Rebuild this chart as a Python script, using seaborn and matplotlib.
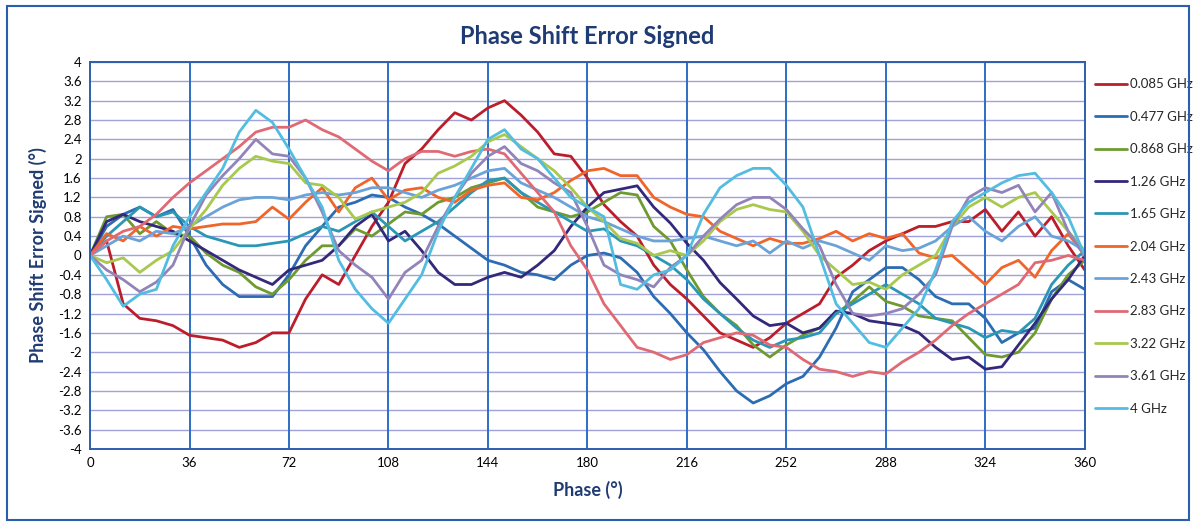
import pandas as pd
import seaborn as sns
import matplotlib.pyplot as plt
from matplotlib.patches import Rectangle

sns.set_theme(style="white")
plt.rcParams['font.family'] = ['Lato', 'DejaVu Sans']

phase = list(range(0, 361, 6))

freq_labels = ['0.085 GHz', '0.477 GHz', '0.868 GHz', '1.26 GHz', '1.65 GHz',
               '2.04 GHz', '2.43 GHz', '2.83 GHz', '3.22 GHz', '3.61 GHz', '4 GHz']

err_0085 = [0, 0.3, -1.0, -1.3, -1.35, -1.45, -1.65, -1.7, -1.75, -1.9, -1.8, -1.6, -1.6,
            -0.9, -0.4, -0.6, 0.0, 0.6, 1.1, 1.9, 2.2, 2.6, 2.95, 2.8, 3.05, 3.2, 2.9, 2.55,
            2.1, 2.05, 1.6, 1.05, 0.7, 0.4, -0.2, -0.6, -0.9, -1.25, -1.6, -1.75, -1.9, -1.7,
            -1.4, -1.2, -1.0, -0.45, -0.2, 0.1, 0.3, 0.45, 0.6, 0.6, 0.7, 0.7, 0.95, 0.5,
            0.9, 0.4, 0.8, 0.2, -0.3]
err_0477 = [0, 0.6, 0.85, 1.0, 0.8, 0.95, 0.4, -0.2, -0.6, -0.85, -0.85, -0.85, -0.4,
            0.2, 0.6, 1.0, 1.1, 1.25, 1.2, 1.0, 0.85, 0.65, 0.4, 0.15, -0.1, -0.2, -0.35,
            -0.4, -0.5, -0.2, 0.0, 0.05, -0.05, -0.35, -0.85, -1.2, -1.6, -1.95, -2.4,
            -2.8, -3.05, -2.9, -2.65, -2.5, -2.1, -1.5, -0.75, -0.5, -0.25, -0.25, -0.5,
            -0.85, -1.0, -1.0, -1.3, -1.8, -1.6, -1.5, -0.75, -0.5, -0.7]
err_0868 = [0, 0.8, 0.85, 0.45, 0.7, 0.45, 0.4, 0.05, -0.2, -0.35, -0.65, -0.8, -0.5,
            -0.1, 0.2, 0.2, 0.55, 0.4, 0.65, 0.9, 0.85, 1.1, 1.2, 1.4, 1.5, 1.6, 1.3, 1.0,
            0.9, 0.8, 0.9, 1.1, 1.3, 1.25, 0.6, 0.3, -0.3, -0.85, -1.2, -1.45, -1.85, -2.1,
            -1.85, -1.65, -1.5, -1.2, -0.95, -0.65, -0.95, -1.05, -1.25, -1.3, -1.35, -1.7,
            -2.05, -2.1, -2.0, -1.6, -0.9, -0.4, -0.1]
err_126 = [0, 0.7, 0.85, 0.7, 0.6, 0.5, 0.3, 0.1, -0.1, -0.3, -0.45, -0.6, -0.3, -0.2,
           -0.1, 0.2, 0.6, 0.85, 0.3, 0.5, 0.1, -0.35, -0.6, -0.6, -0.45, -0.35, -0.45,
           -0.2, 0.1, 0.6, 1.0, 1.3, 1.37, 1.44, 1.0, 0.67, 0.25, -0.1, -0.56, -0.9, -1.25,
           -1.45, -1.4, -1.6, -1.5, -1.15, -1.2, -1.35, -1.4, -1.45, -1.6, -1.9, -2.15,
           -2.1, -2.35, -2.3, -1.85, -1.4, -0.9, -0.5, 0.0]
err_165 = [0, 0.4, 0.7, 1.0, 0.8, 0.9, 0.6, 0.4, 0.3, 0.2, 0.2, 0.25, 0.3, 0.45, 0.6,
           0.5, 0.7, 0.9, 0.6, 0.3, 0.5, 0.7, 1.0, 1.3, 1.55, 1.6, 1.3, 1.1, 0.9, 0.7,
           0.5, 0.55, 0.3, 0.2, 0.0, -0.2, -0.5, -0.9, -1.2, -1.5, -1.75, -1.9, -1.75,
           -1.7, -1.6, -1.2, -1.0, -0.8, -0.6, -0.8, -1.0, -1.3, -1.4, -1.5, -1.7, -1.55,
           -1.6, -1.3, -0.6, -0.2, 0.1]
err_204 = [0, 0.45, 0.3, 0.6, 0.4, 0.6, 0.55, 0.6, 0.65, 0.65, 0.7, 1.0, 0.75, 1.1,
           1.4, 0.9, 1.4, 1.6, 1.15, 1.35, 1.4, 1.2, 1.1, 1.35, 1.45, 1.5, 1.2, 1.15, 1.3,
           1.55, 1.75, 1.8, 1.65, 1.65, 1.2, 1.0, 0.85, 0.8, 0.5, 0.35, 0.2, 0.35, 0.25,
           0.25, 0.35, 0.5, 0.3, 0.45, 0.35, 0.45, 0.05, -0.05, 0.0, -0.3, -0.6, -0.25,
           -0.1, -0.45, 0.1, 0.45, 0.0]
err_243 = [0, 0.2, 0.4, 0.3, 0.5, 0.45, 0.6, 0.8, 1.0, 1.15, 1.2, 1.2, 1.15, 1.25, 1.3,
           1.25, 1.3, 1.4, 1.4, 1.3, 1.2, 1.35, 1.45, 1.6, 1.75, 1.8, 1.5, 1.35, 1.2, 1.0,
           0.8, 0.7, 0.55, 0.4, 0.3, 0.3, 0.35, 0.4, 0.3, 0.2, 0.3, 0.05, 0.3, 0.15,
           0.3, 0.2, 0.05, -0.1, 0.2, 0.1, 0.15, 0.3, 0.6, 0.8, 0.5, 0.3, 0.6, 0.8, 0.4,
           0.3, 0.1]
err_283 = [0, 0.3, 0.5, 0.6, 0.85, 1.2, 1.5, 1.75, 2.0, 2.25, 2.55, 2.65, 2.65, 2.8,
           2.6, 2.45, 2.2, 1.95, 1.75, 2.0, 2.15, 2.15, 2.05, 2.15, 2.2, 2.1, 1.7, 1.3,
           0.9, 0.2, -0.3, -1.0, -1.45, -1.9, -2.0, -2.15, -2.05, -1.8, -1.7, -1.6, -1.65,
           -1.85, -1.9, -2.15, -2.35, -2.4, -2.5, -2.4, -2.45, -2.2, -2.0, -1.75, -1.45,
           -1.2, -1.0, -0.8, -0.6, -0.15, -0.1, 0.0, -0.1]
err_322 = [0, -0.15, -0.05, -0.35, -0.1, 0.1, 0.55, 0.95, 1.45, 1.8, 2.05, 1.95, 1.9,
           1.5, 1.45, 1.2, 0.75, 0.9, 1.0, 1.1, 1.3, 1.7, 1.85, 2.05, 2.35, 2.5, 2.25, 2.0,
           1.75, 1.4, 1.0, 0.7, 0.35, 0.25, 0.0, 0.1, 0.0, 0.3, 0.7, 0.95, 1.05, 0.95,
           0.9, 0.5, 0.0, -0.3, -0.6, -0.55, -0.7, -0.4, -0.2, 0.0, 0.6, 1.0, 1.2, 1.0,
           1.2, 1.3, 0.9, 0.5, 0.1]
err_361 = [0, -0.3, -0.5, -0.75, -0.55, -0.2, 0.6, 1.25, 1.65, 2.0, 2.4, 2.1, 2.05, 1.6,
           0.9, 0.1, -0.2, -0.45, -0.9, -0.35, -0.1, 0.6, 1.2, 1.7, 2.05, 2.25, 1.9, 1.75,
           1.5, 1.3, 0.6, -0.2, -0.4, -0.5, -0.65, -0.25, 0.0, 0.4, 0.75, 1.05, 1.2, 1.2,
           0.95, 0.55, 0.2, -0.6, -1.2, -1.25, -1.2, -1.1, -0.8, -0.4, 0.6, 1.2, 1.4, 1.3,
           1.45, 0.9, 1.3, 0.5, 0.0]
err_4 = [0, -0.5, -1.05, -0.8, -0.7, 0.2, 0.8, 1.3, 1.8, 2.55, 3.0, 2.75, 2.2, 1.6, 1.0,
         -0.1, -0.7, -1.1, -1.4, -0.9, -0.4, 0.5, 1.2, 1.8, 2.4, 2.6, 2.2, 2.0, 1.6, 1.2,
         1.0, 0.8, -0.6, -0.7, -0.4, -0.3, 0.0, 0.85, 1.4, 1.65, 1.8, 1.8, 1.45, 1.0,
         0.0, -1.0, -1.4, -1.8, -1.9, -1.5, -1.1, -0.3, 0.7, 1.1, 1.3, 1.5, 1.65, 1.7,
         1.3, 0.8, 0.0]

series = [err_0085, err_0477, err_0868, err_126, err_165, err_204,
          err_243, err_283, err_322, err_361, err_4]

colors = ['#BB1E2A', '#2C6CB3', '#6F9A30', '#33287A', '#2A97B5', '#F0652A',
          '#6BA2D8', '#E06A74', '#A8C84E', '#9284B8', '#52BDE0']

frames = []
for lab, vals in zip(freq_labels, series):
    frames.append(pd.DataFrame({'phase': phase, 'error': vals, 'freq': lab}))
df = pd.concat(frames, ignore_index=True)

fig = plt.figure(figsize=(11.96, 5.25), dpi=100)
ax = fig.add_axes([0.0753, 0.1448, 0.8317, 0.7372])

sns.lineplot(data=df, x='phase', y='error', hue='freq', hue_order=freq_labels,
             palette=colors, linewidth=2.0, sort=False, ax=ax, legend=True)

navy = '#1F3B73'
ax.set_xlim(0, 360)
ax.set_ylim(-4, 4)
ax.set_xticks(range(0, 361, 36))
yt = [round(-4 + 0.4 * i, 1) for i in range(21)]
ax.set_yticks(yt)
ax.set_yticklabels([f'{v:g}' for v in yt])
ax.tick_params(axis='both', labelsize=9.5, colors='black', length=0, pad=6)

ax.grid(False)
for v in yt:
    ax.axhline(v, color='#9FA3DA', linewidth=1.0, zorder=0)
for v in range(36, 360, 36):
    ax.axvline(v, color='#2B6FC4', linewidth=1.4, zorder=0.5)
for s in ax.spines.values():
    s.set_color('#2B5FAE')
    s.set_linewidth(1.4)

ax.set_xlabel('Phase (°)', fontsize=13, fontweight='bold', color=navy, labelpad=8)
ax.set_ylabel('Phase Shift Error Signed (°)', fontsize=13, fontweight='bold',
              color=navy, labelpad=8)
fig.text(0.491, 0.93, 'Phase Shift Error Signed', ha='center', va='center',
         fontsize=17, fontweight='bold', color=navy)

handles, labels = ax.get_legend_handles_labels()
ax.legend(handles, labels, loc='upper left', bbox_to_anchor=(1.0, 0.985),
          frameon=False, fontsize=9.5, handlelength=2.4, handletextpad=0.2,
          labelspacing=1.55, borderaxespad=0.4)

fig.patches.append(Rectangle((0.006, 0.01), 0.988, 0.978, transform=fig.transFigure,
                             fill=False, edgecolor='#2B5FAE', linewidth=1.5))

fig.savefig('out.png', dpi=100)
